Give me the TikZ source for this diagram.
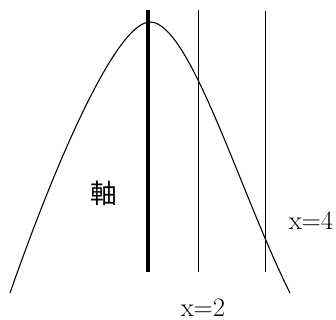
\documentclass[tikz,border=0pt]{standalone}
\usepackage{fontspec}
\newfontfamily\jpfont{Noto Sans CJK JP}
\usepackage{tikz}
\usetikzlibrary{positioning}

\begin{document}
\begin{tikzpicture}[x=0.75pt, y=-0.75pt, font=\fontsize{20}{24}\selectfont,
  label/.style={inner sep=0pt}]

  \useasboundingbox (0,0) rectangle (336,320);

  % parabola
  \draw[line width=0.8pt] (10,293) .. controls (60,150) and (118,22) .. (150,22)
    .. controls (190,22) and (240,193) .. (290,293);

  % axis and lines
  \coordinate (axtop) at (148,10);
  \coordinate (axbot) at (148,272);
  \coordinate (ltop) at (198,10);
  \coordinate (lbot) at (198,272);
  \coordinate (rtop) at (265.7,11);
  \coordinate (rbot) at (265.7,272);

  \draw[line width=3.5pt] (axtop) -- (axbot);
  \draw[line width=0.75pt] (ltop) -- (lbot);
  \draw[line width=0.75pt] (rtop) -- (rbot);

  \node[label] (axis) at (104,193) {\jpfont 軸};
  \node[label] (xtwo) at (203,308) {x=2};
  \node[label] (xfour) at (311,221) {x=4};

\end{tikzpicture}
\end{document}
